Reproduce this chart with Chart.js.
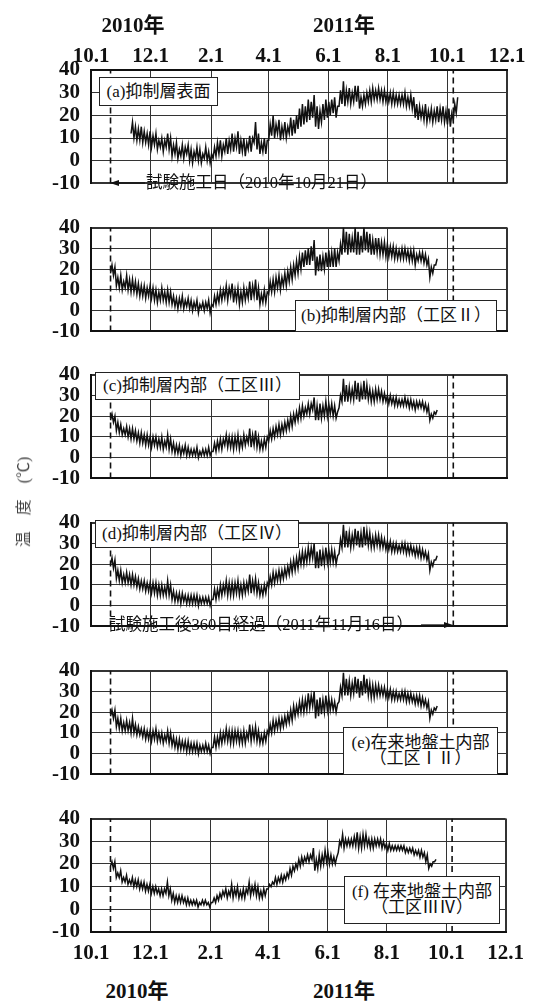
<!DOCTYPE html>
<html><head><meta charset="utf-8">
<script src="https://cdn.jsdelivr.net/npm/chart.js@4.4.1/dist/chart.umd.min.js"></script>
<style>
body{margin:0;background:#fff;width:533px;height:1003px;position:relative;overflow:hidden;}
canvas{position:absolute;left:0;}
.t{position:absolute;font-family:"Liberation Serif","Noto Sans CJK JP",serif;color:#111;white-space:nowrap;line-height:1;}
.yr{font-size:21px;font-weight:bold;transform:translateX(-50%);}
.box{position:absolute;background:#fff;border:1px solid #222;box-sizing:border-box;font-family:"Liberation Serif","Noto Sans CJK JP",serif;font-size:17px;color:#111;display:flex;flex-direction:column;align-items:center;justify-content:center;line-height:16px;white-space:nowrap;}
.ann{font-size:16.5px;}
</style>
</head><body>
<canvas id="pa" width="533" height="179" style="top:28px"></canvas>
<canvas id="pb" width="533" height="151" style="top:204px"></canvas>
<canvas id="pc" width="533" height="151" style="top:351px"></canvas>
<canvas id="pd" width="533" height="151" style="top:499px"></canvas>
<canvas id="pe" width="533" height="151" style="top:647px"></canvas>
<canvas id="pf" width="533" height="173" style="top:795px"></canvas>

<div class="t yr" style="left:133px;top:15px">2010年</div>
<div class="t yr" style="left:344px;top:15px">2011年</div>
<div class="t yr" style="left:137px;top:981px">2010年</div>
<div class="t yr" style="left:344px;top:981px">2011年</div>

<div class="t" style="left:24px;top:502px;font-size:16px;color:#444;transform:translate(-50%,-50%) rotate(-90deg);">温　度　(℃)</div>

<div class="box" style="left:99px;top:77px;width:119px;height:29px">(a)抑制層表面</div>
<div class="box" style="left:295px;top:300px;width:202px;height:32px">(b)抑制層内部（工区Ⅱ）</div>
<div class="box" style="left:95px;top:372px;width:205px;height:28px">(c)抑制層内部（工区Ⅲ）</div>
<div class="box" style="left:95px;top:520px;width:204px;height:28px">(d)抑制層内部（工区Ⅳ）</div>
<div class="box" style="left:343px;top:727px;width:155px;height:48px"><div>(e)在来地盤土内部</div><div>（工区ⅠⅡ）</div></div>
<div class="box" style="left:344px;top:876px;width:156px;height:48px"><div>(f) 在来地盤土内部</div><div>（工区ⅢⅣ）</div></div>

<div class="t ann" style="left:146px;top:175px">試験施工日（2010年10月21日）</div>
<div class="t ann" style="left:109px;top:617px">試験施工後360日経過（2011年11月16日）</div>
<svg style="position:absolute;left:0;top:0" width="533" height="1003">
  <line x1="117" y1="183" x2="145" y2="183" stroke="#111" stroke-width="1.3"/>
  <polygon points="110,183 119,180 119,186" fill="#111"/>
  <line x1="421" y1="625" x2="446" y2="625" stroke="#111" stroke-width="1.3"/>
  <polygon points="453,625 444,622 444,628" fill="#111"/>
</svg>

<script>
// x axis: days since 2010-10-01
const xTickDays = [0, 61, 123, 182, 243, 304, 365, 426];
const xTickLabels = ['10.1', '12.1', '2.1', '4.1', '6.1', '8.1', '10.1', '12.1'];
const yTicks = [-10, 0, 10, 20, 30, 40];
const markerDays = [20, 371];   // 試験施工日, 試験施工後360日経過
const STEP = 3;                 // days between readings (each reading = low and high)
const startA = 41;
const startOthers = 20;

// (a) 抑制層表面
const loA = [12,10,9,9,8,8,7, 6,7,5,6,4,6,5, 2,3,1,2,1,3,0, -1,1,0,-1,1,0,-1,
  1,2,3,2,4,3,5, 4,6,3,4,2,5,4, 8,5,3,4,3,9,11, 10,12,9,11,10,12,11,
  12,14,15,16,17,18,19, 15,14,17,18,19,20,21, 19,24,25,24,26,25,26, 26,23,24,25,26,26,27,
  27,27,26,26,26,25,25, 25,25,25,24,24,23,19, 18,19,18,17,18,17,18, 17,18,17,16,15,18,21];
const hiA = [17,15,14,15,13,12,13, 11,12,9,10,9,12,10, 7,8,5,7,6,7,5, 4,6,5,3,6,4,3,
  6,8,9,7,10,9,12, 10,13,9,10,8,11,10, 17,12,8,10,9,16,20, 16,18,15,17,15,19,18,
  20,23,25,24,27,26,29, 24,22,25,27,26,27,28, 24,31,35,31,32,30,33, 33,28,29,30,31,32,31,
  32,31,31,30,30,30,29, 29,29,30,28,29,28,25, 24,23,25,22,23,22,24, 23,24,22,23,21,25,28];
// (b) 抑制層内部（工区Ⅱ）
const loB = [18,17,12,11,10,11,10, 9,9,8,7,7,6,7, 6,5,4,5,5,4,4, 3,2,1,2,1,2,1,
  0,1,-1,1,0,1,-1, 2,3,4,5,6,5,7, 4,5,3,4,5,6,5, 7,5,3,4,4,8,9,
  9,11,10,12,12,14,15, 17,18,20,21,22,22,24, 17,19,19,20,21,21,21, 21,24,27,28,27,28,28,
  27,27,28,29,28,27,27, 28,27,27,26,26,26,25, 25,25,25,25,24,24,22, 24,24,23,22,16,18,22];
const hiB = [22,21,16,17,14,17,15, 15,14,13,12,12,11,12, 11,10,9,11,9,10,9, 7,6,6,7,5,6,5,
  4,5,3,4,4,5,3, 7,8,10,10,12,11,13, 10,11,9,11,10,14,12, 15,11,8,10,9,14,15,
  16,17,16,18,19,21,22, 24,26,28,29,30,31,34, 26,27,26,28,29,28,30, 28,32,40,38,37,35,40,
  38,36,40,38,37,34,35, 35,33,33,32,31,31,30, 29,30,30,29,29,29,27, 28,28,27,25,21,22,25];
// (c) 抑制層内部（工区Ⅲ）
const loC = [18,17,13,12,11,11,10, 9,9,8,7,7,6,6, 5,6,5,5,4,5,4, 3,2,2,1,2,1,1,
  1,1,0,1,1,1,1, 3,3,4,4,6,5,5, 4,5,4,5,6,7,5, 6,5,4,4,5,8,9,
  10,11,11,12,13,14,15, 17,18,19,20,21,21,23, 18,18,19,20,20,21,20, 19,24,27,27,27,28,28,
  28,27,28,28,28,27,27, 28,28,27,27,26,26,25, 25,25,25,25,24,24,23, 24,24,23,22,18,19,21];
const hiC = [21,20,17,16,14,15,14, 14,13,12,12,11,11,10, 10,10,9,10,8,11,9, 7,6,6,5,6,5,4,
  4,5,3,4,4,5,3, 7,8,9,9,11,10,10, 10,11,9,11,10,14,11, 13,10,8,9,10,13,14,
  15,16,16,17,18,20,21, 22,24,25,24,26,26,29, 25,26,25,27,26,26,25, 22,30,38,35,34,33,37,
  36,34,37,35,33,32,33, 33,32,31,30,30,29,29, 28,28,29,28,28,27,27, 27,27,26,25,21,22,23];
// (d) 抑制層内部（工区Ⅳ）
const loD = [20,18,13,12,11,11,11, 10,10,9,8,8,7,7, 6,6,5,5,5,5,5, 3,2,2,1,2,1,1,
  1,1,0,1,1,1,0, 3,3,4,5,6,5,5, 5,6,5,5,6,7,6, 7,6,5,5,6,9,10,
  11,12,12,13,14,15,16, 17,18,20,20,21,22,23, 18,18,19,20,21,21,21, 20,25,28,28,28,28,29,
  29,28,28,29,29,28,28, 29,28,28,27,27,26,26, 26,26,26,25,25,25,24, 24,23,23,22,17,19,22];
const hiD = [23,22,17,17,15,16,15, 15,14,13,12,12,11,11, 11,11,10,10,9,12,10, 7,6,6,6,5,5,5,
  5,5,4,4,4,4,3, 8,8,10,10,12,11,11, 11,12,10,11,11,15,12, 13,11,9,10,11,14,16,
  16,17,17,18,19,21,22, 23,25,26,26,28,28,30, 26,27,26,28,27,27,26, 24,32,39,36,35,34,37,
  36,35,38,36,35,33,34, 34,33,32,31,31,30,30, 29,30,30,29,29,28,28, 28,27,26,25,21,22,24];
// (e) 在来地盤土内部（工区ⅠⅡ）
const loE = [18,17,13,12,11,11,11, 10,10,9,9,8,7,7, 6,7,6,6,5,6,5, 4,3,2,2,2,1,1,
  1,1,0,1,1,1,0, 3,3,4,5,6,6,5, 5,6,5,5,5,7,6, 7,6,5,5,6,9,10,
  11,12,12,13,14,15,16, 18,19,20,20,21,22,23, 17,18,19,20,21,21,21, 20,25,28,28,28,28,29,
  29,27,28,29,28,27,27, 28,28,28,27,27,26,26, 26,26,26,25,25,25,24, 24,23,23,22,17,19,21];
const hiE = [21,21,17,17,15,16,15, 17,14,13,12,12,11,11, 11,12,10,10,9,11,10, 8,7,7,6,6,6,5,
  5,5,4,4,5,4,3, 8,8,10,10,12,11,11, 11,11,10,11,10,14,12, 13,11,9,10,11,14,16,
  16,17,17,18,19,21,23, 23,25,26,26,29,28,30, 26,27,26,28,27,26,25, 24,32,39,36,35,34,37,
  36,35,38,36,34,33,33, 33,32,32,31,31,30,30, 29,30,30,29,29,28,28, 28,27,26,25,21,22,23];
// (f) 在来地盤土内部（工区ⅢⅣ）
const loF = [19,18,14,14,12,12,11, 11,10,10,9,9,8,8, 7,7,7,6,6,7,6, 4,3,3,3,3,2,2,
  2,2,1,2,2,2,1, 3,3,4,5,6,5,6, 5,6,5,5,5,7,6, 7,6,5,5,6,9,10,
  11,11,12,12,13,14,15, 17,18,19,20,21,21,22, 17,18,19,20,21,20,20, 20,25,28,27,28,28,28,
  28,27,27,28,28,27,27, 28,28,27,27,26,26,26, 26,26,26,25,25,25,24, 24,23,23,21,18,19,21];
const hiF = [21,21,16,17,14,15,13, 14,13,13,12,12,11,11, 10,10,9,9,9,12,9, 7,6,6,6,5,5,4,
  4,4,3,4,4,3,3, 5,6,7,8,9,8,11, 9,10,8,9,9,12,10, 11,10,8,9,9,11,12,
  14,14,15,15,16,18,19, 20,22,23,23,24,24,27, 22,24,24,26,25,24,23, 23,30,33,31,31,31,32,
  34,32,33,33,31,31,31, 31,31,30,29,29,28,28, 28,28,28,27,27,27,26, 26,26,25,24,20,21,22];

const tickFont = {family: 'Liberation Serif', size: 21, weight: 'bold'};

function buildPoints(lo, hi, start) {
  const pts = [];
  lo.forEach((v, i) => {
    pts.push({x: start + i * STEP, y: v});
    pts.push({x: start + i * STEP + STEP / 2, y: hi[i]});
  });
  return pts;
}

function makeChart(id, lo, hi, start, o) {
  const dashSets = markerDays.map(d => ({
    data: [{x: d, y: -10}, {x: d, y: 40}],
    borderColor: '#111', borderWidth: 1.6, borderDash: [6, 4], pointRadius: 0
  }));
  return new Chart(document.getElementById(id), {
    type: 'line',
    data: {datasets: [
      {data: buildPoints(lo, hi, start), borderColor: '#111', borderWidth: 1.5, pointRadius: 0, tension: 0},
      ...dashSets
    ]},
    options: {
      responsive: false, animation: false, devicePixelRatio: 1,
      layout: {padding: {left: 0, right: 26, top: o.padTop, bottom: o.padBottom}},
      plugins: {legend: {display: false}, tooltip: {enabled: false}},
      scales: {
        x: {
          type: 'linear', position: o.xPos, min: 0, max: 426,
          afterBuildTicks: s => { s.ticks = xTickDays.map(v => ({value: v})); },
          ticks: {display: o.showX, callback: (v, i) => xTickLabels[i], font: tickFont,
                  color: '#111', padding: o.xPad, maxRotation: 0, autoSkip: false},
          grid: {color: '#333', lineWidth: c => (c.index === 0 || c.index === xTickDays.length - 1) ? 2 : 1, drawTicks: false},
          border: {display: true, color: '#111', width: 2},
          afterFit: s => { s.height = o.xH; }
        },
        y: {
          min: -10, max: 40,
          afterBuildTicks: s => { s.ticks = yTicks.map(v => ({value: v})); },
          ticks: {font: tickFont, color: '#111', padding: 11, autoSkip: false},
          grid: {color: '#333', lineWidth: c => (c.tick && (c.tick.value === 40 || c.tick.value === -10)) ? 2 : 1, drawTicks: false},
          border: {display: true, color: '#111', width: 2},
          afterFit: s => { s.width = 91; }
        }
      }
    }
  });
}

const mid = {padTop: 14, padBottom: 14, xPos: 'bottom', showX: false, xPad: 0, xH: 0};
makeChart('pa', loA, hiA, startA, {padTop: 0, padBottom: 14, xPos: 'top', showX: true, xPad: 1, xH: 42});
makeChart('pb', loB, hiB, startOthers, mid);
makeChart('pc', loC, hiC, startOthers, mid);
makeChart('pd', loD, hiD, startOthers, mid);
makeChart('pe', loE, hiE, startOthers, mid);
makeChart('pf', loF, hiF, startOthers, {padTop: 14, padBottom: 0, xPos: 'bottom', showX: true, xPad: 9, xH: 36});
</script>
</body></html>
